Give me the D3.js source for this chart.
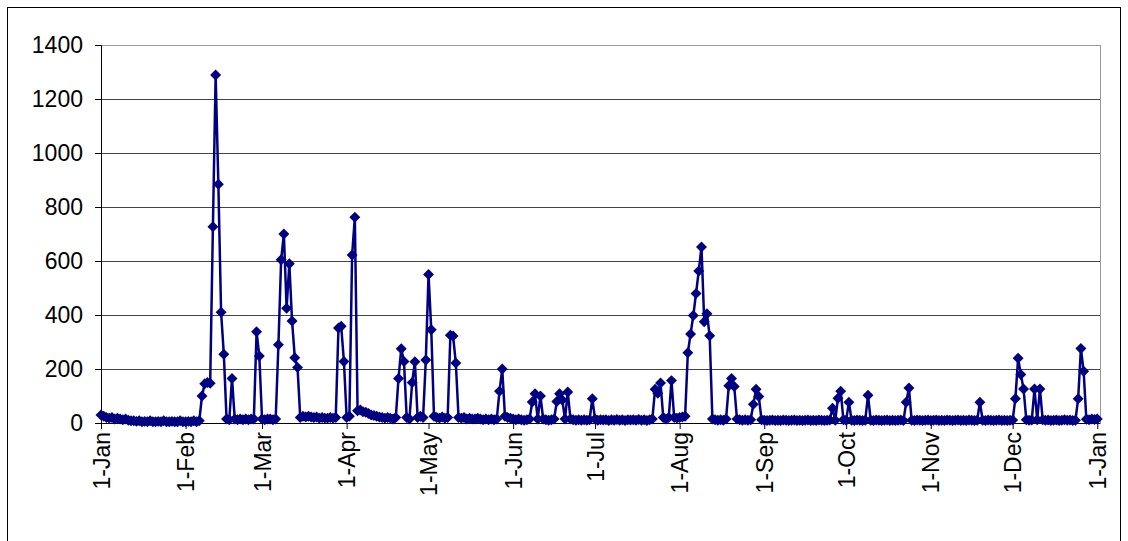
<!DOCTYPE html>
<html>
<head>
<meta charset="utf-8">
<script src="https://cdn.jsdelivr.net/npm/d3@7"></script>
<style>
  body { margin: 0; background: #fff; }
  svg { display: block; }
</style>
</head>
<body>
<div id="chart"></div>
<script>
const width = 1128;
const height = 541;

// y axis ticks
const yTicks = [0, 200, 400, 600, 800, 1000, 1200, 1400];

// daily values, one array per month
const jan = [30, 25, 20, 18, 20, 15, 18, 15, 12, 15, 10, 8, 8, 6, 8, 5, 6, 5, 8, 5, 5, 6, 5, 8, 5, 5, 6, 5, 5, 8, 5];
const feb = [5, 6, 5, 8, 5, 8, 100, 145, 150, 147, 727, 1289, 884, 410, 255, 15, 12, 165, 15, 12, 15, 12, 15, 12, 15, 15, 338, 248];
const mar = [15, 12, 15, 15, 12, 15, 290, 605, 700, 425, 590, 378, 242, 206, 20, 25, 22, 25, 22, 20, 22, 18, 20, 18, 18, 20, 18, 20, 352, 358, 228];
const apr = [20, 25, 622, 762, 45, 48, 42, 40, 35, 30, 28, 25, 22, 20, 18, 20, 18, 15, 20, 165, 275, 228, 20, 15, 150, 227, 20, 25, 20, 233];
const may = [550, 345, 25, 20, 18, 22, 18, 20, 325, 322, 222, 20, 18, 20, 15, 18, 15, 15, 18, 15, 12, 15, 12, 15, 12, 15, 118, 200, 25, 20, 18];
const jun = [15, 12, 15, 12, 10, 12, 15, 78, 108, 15, 100, 15, 12, 10, 12, 15, 80, 108, 85, 15, 115, 15, 12, 10, 12, 10, 12, 10, 12, 90];
const jul = [15, 10, 12, 11, 12, 9, 12, 10, 13, 10, 12, 9, 12, 11, 12, 10, 13, 10, 12, 9, 12, 15, 125, 110, 148, 20, 15, 20, 157, 20, 18];
const aug = [20, 22, 25, 260, 330, 398, 480, 563, 652, 375, 405, 323, 15, 12, 10, 12, 10, 15, 138, 165, 135, 15, 12, 10, 12, 10, 12, 69, 125, 98, 12];
const sep = [10, 9, 10, 11, 9, 10, 9, 11, 10, 9, 10, 11, 9, 10, 9, 10, 11, 9, 10, 9, 11, 10, 9, 10, 11, 55, 10, 92, 118, 12];
const oct = [10, 77, 10, 9, 11, 10, 9, 10, 103, 10, 9, 11, 10, 9, 10, 11, 9, 10, 9, 10, 11, 9, 77, 130, 10, 9, 11, 10, 9, 10, 11];
const nov = [9, 10, 11, 9, 10, 9, 11, 10, 9, 10, 11, 9, 10, 9, 11, 10, 9, 10, 77, 10, 9, 11, 10, 9, 10, 11, 9, 10, 9, 10];
const dec = [11, 90, 240, 180, 126, 12, 10, 11, 126, 12, 126, 12, 10, 11, 9, 10, 11, 9, 10, 12, 10, 11, 9, 10, 90, 276, 192, 14, 12, 15, 13];
const nextJan = [15];

const values = [].concat(jan, feb, mar, apr, may, jun, jul, aug, sep, oct, nov, dec, nextJan);

const start = new Date(2003, 0, 1);
const days = d3.timeDay.range(start, d3.timeDay.offset(start, values.length));
const data = days.map((d, i) => ({ date: d, value: values[i] }));

const plotLeft = 101;
const plotRight = 1100;
const plotTop = 45;
const plotBottom = 423;

const svg = d3.select('#chart')
  .append('svg')
  .attr('width', width)
  .attr('height', height);

// outer chart frame
svg.append('rect')
  .attr('x', 7.5)
  .attr('y', 7.5)
  .attr('width', 1113)
  .attr('height', 560)
  .style('fill', 'none')
  .style('stroke', '#000')
  .style('stroke-width', 1);

const x = d3.scaleTime()
  .domain([start, d3.timeDay.offset(start, 366)])
  .range([plotLeft, plotRight]);

const y = d3.scaleLinear()
  .domain([0, 1400])
  .range([plotBottom, plotTop]);

// gridlines
svg.append('g')
  .selectAll('line')
  .data(yTicks.slice(1))
  .join('line')
  .attr('x1', plotLeft)
  .attr('x2', plotRight)
  .attr('y1', d => Math.round(y(d)) + 0.5)
  .attr('y2', d => Math.round(y(d)) + 0.5)
  .style('stroke', d => d === 1400 ? '#999' : '#444')
  .style('stroke-width', 1);

// right border of plot area
svg.append('line')
  .attr('x1', plotRight + 0.5)
  .attr('x2', plotRight + 0.5)
  .attr('y1', plotTop)
  .attr('y2', plotBottom)
  .style('stroke', '#999')
  .style('stroke-width', 1);

const font = 'Liberation Sans, Arial, sans-serif';

// y axis
const yAxis = svg.append('g')
  .attr('transform', `translate(${plotLeft},0)`)
  .call(d3.axisLeft(y).tickValues(yTicks).tickFormat(d3.format('d')).tickSize(6).tickPadding(12));
yAxis.select('.domain').style('stroke', '#000');
yAxis.selectAll('line').style('stroke', '#000');
yAxis.selectAll('text')
  .style('font-family', font)
  .style('font-size', '23px')
  .style('fill', '#000');

// x axis
const monthTicks = d3.timeMonth.range(start, d3.timeDay.offset(start, 366));
const xAxis = svg.append('g')
  .attr('transform', `translate(0,${plotBottom})`)
  .call(d3.axisBottom(x)
    .tickValues(monthTicks)
    .tickFormat(d => '1-' + d3.timeFormat('%b')(d))
    .tickSize(6)
    .tickSizeOuter(0));
xAxis.select('.domain').style('stroke', '#000');
xAxis.selectAll('line').style('stroke', '#000');
xAxis.selectAll('text')
  .style('font-family', font)
  .style('font-size', '23px')
  .style('fill', '#000')
  .attr('transform', 'rotate(-90)')
  .attr('text-anchor', 'end')
  .attr('x', -9)
  .attr('y', 0)
  .attr('dy', '0.35em');

// line
const lineFunction = d3.line()
  .x(d => x(d.date))
  .y(d => y(d.value));

svg.append('path')
  .datum(data)
  .attr('d', lineFunction)
  .style('fill', 'none')
  .style('stroke', '#000080')
  .style('stroke-width', 2.5)
  .style('stroke-linejoin', 'round');

// diamond markers
const diamond = d3.symbol().type(d3.symbolSquare).size(60);
svg.append('g')
  .selectAll('path')
  .data(data)
  .join('path')
  .attr('d', diamond)
  .attr('transform', d => `translate(${x(d.date)},${y(d.value)}) rotate(45)`)
  .style('fill', '#000080');
</script>
</body>
</html>
